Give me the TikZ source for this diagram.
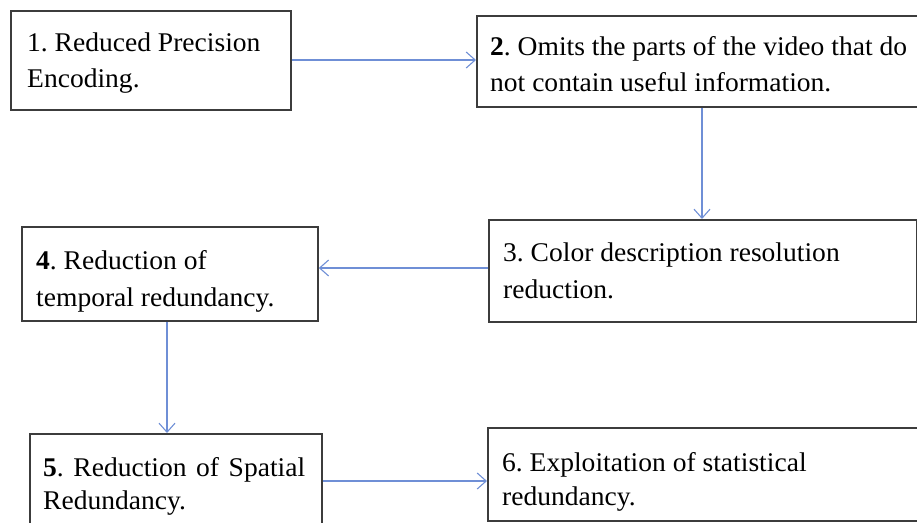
\documentclass[tikz,border=0pt]{standalone}
\usepackage{fontspec}
\setmainfont[FakeStretch=1.02]{Liberation Serif}
\usetikzlibrary{arrows.meta}
\definecolor{flowblue}{HTML}{6F8FD6}
\definecolor{framegray}{HTML}{3C3C3C}
\frenchspacing
\begin{document}
\begin{tikzpicture}[x=1pt,y=-1pt,
  stepbox/.style={draw=framegray, line width=1.8pt, fill=white, inner sep=0pt, anchor=north west},
  txt/.style={anchor=base west, inner sep=0pt, font=\fontsize{27}{32}\selectfont},
  flow/.style={draw=flowblue, line width=1.1pt, -{Straight Barb[length=9pt,width=16pt,line width=1.1pt]}}]
  \useasboundingbox (0,0) rectangle (917,522);
  \begin{scope}
    \clip (0,0) rectangle (917,522);
    % process boxes
    \node[stepbox, minimum width=280pt, minimum height=99pt] (b1) at (10,10) {};
    \node[stepbox, minimum width=460pt, minimum height=91pt] (b2) at (476,15) {};
    \node[stepbox, minimum width=428pt, minimum height=102pt] (b3) at (488,219) {};
    \node[stepbox, minimum width=296pt, minimum height=94pt] (b4) at (21,226) {};
    \node[stepbox, minimum width=292pt, minimum height=110pt] (b5) at (29,433) {};
    \node[stepbox, minimum width=460pt, minimum height=93pt] (b6) at (487,427) {};
    % box texts
    \node[txt] (t1a) at (27,51) {1. Reduced Precision};
    \node[txt] (t1b) at (27,87) {Encoding.};
    \node[txt] (t2a) at (490,55) {\textbf{2}. Omits the parts of the video that do};
    \node[txt] (t2b) at (490,91) {not contain useful information.};
    \node[txt] (t3a) at (503,261) {3. Color description resolution};
    \node[txt] (t3b) at (503,298) {reduction.};
    \node[txt] (t4a) at (36,269) {\textbf{4}. Reduction of};
    \node[txt] (t4b) at (36,306) {temporal redundancy.};
    \node[txt] (t5a) at (43,476) {\makebox[262pt][s]{\textbf{5}. Reduction of Spatial}};
    \node[txt] (t5b) at (43,509) {Redundancy.};
    \node[txt] (t6a) at (502,471) {6. Exploitation of statistical};
    \node[txt] (t6b) at (502,505) {redundancy.};
  \end{scope}
  % connector guide positions
  \coordinate (r12) at (0,60);
  \coordinate (c23) at (702,0);
  \coordinate (r34) at (0,268);
  \coordinate (c45) at (167,0);
  \coordinate (r56) at (0,481);
  % connectors
  \draw[flow] (b1.east |- r12) -- (b2.west |- r12);
  \draw[flow] (b2.south -| c23) -- (b3.north -| c23);
  \draw[flow] (b3.west |- r34) -- (b4.east |- r34);
  \draw[flow] (b4.south -| c45) -- (b5.north -| c45);
  \draw[flow] (b5.east |- r56) -- (b6.west |- r56);
\end{tikzpicture}
\end{document}
